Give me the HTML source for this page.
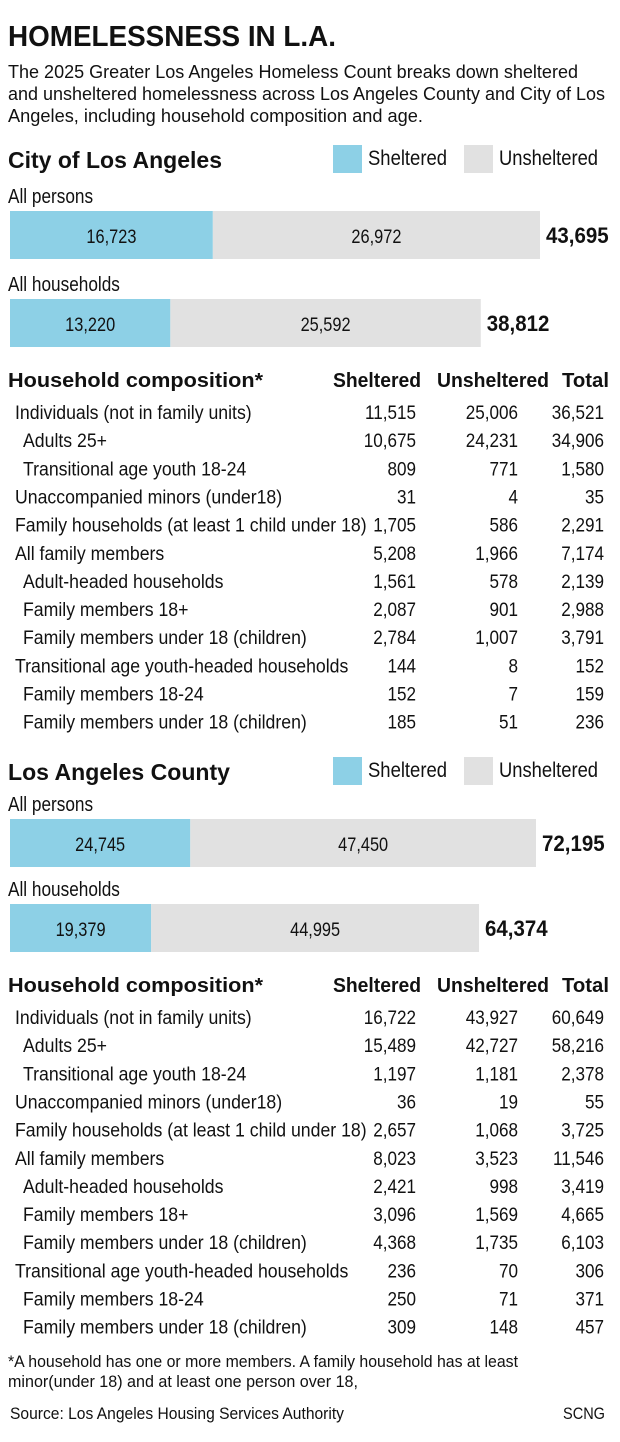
<!DOCTYPE html>
<html><head><meta charset="utf-8"><style>
body{margin:0;background:#fff;}
svg{display:block;font-family:"Liberation Sans",sans-serif;}
</style></head><body>
<svg id="s" width="620" height="1442" viewBox="0 0 620 1442">
<rect width="620" height="1442" fill="#fff"/>
</svg>
<script>
const cityBarLabels=["All persons","All households"];
const citySheltered=[16723,13220];
const cityUnsheltered=[26972,25592];
const countySheltered=[24745,19379];
const countyUnsheltered=[47450,44995];
const rowLabels=["Individuals (not in family units)","Adults 25+","Transitional age youth 18-24","Unaccompanied minors (under18)","Family households (at least 1 child under 18)","All family members","Adult-headed households","Family members 18+","Family members under 18 (children)","Transitional age youth-headed households","Family members 18-24","Family members under 18 (children)"];
const rowIndent=[1,2,2,1,1,1,2,2,2,1,2,2];
const cityRowSheltered=[11515,10675,809,31,1705,5208,1561,2087,2784,144,152,185];
const cityRowUnsheltered=[25006,24231,771,4,586,1966,578,901,1007,8,7,51];
const cityRowTotal=[36521,34906,1580,35,2291,7174,2139,2988,3791,152,159,236];
const countyRowSheltered=[16722,15489,1197,36,2657,8023,2421,3096,4368,236,250,309];
const countyRowUnsheltered=[43927,42727,1181,19,1068,3523,998,1569,1735,70,71,148];
const countyRowTotal=[60649,58216,2378,55,3725,11546,3419,4665,6103,306,371,457];

const S=document.getElementById('s');
const NS='http://www.w3.org/2000/svg';
const fmt=n=>n.toLocaleString('en-US');
function txt(x,y,str,size,opts){
  opts=opts||{};
  const t=document.createElementNS(NS,'text');
  t.setAttribute('x',x);t.setAttribute('y',y);
  t.setAttribute('font-size',size);
  t.setAttribute('fill',opts.fill||'#111');
  if(opts.bold)t.setAttribute('font-weight','bold');
  if(opts.anchor)t.setAttribute('text-anchor',opts.anchor);
  t.textContent=str;
  
  
  S.appendChild(t);
  if(opts.len){t.setAttribute('textLength',opts.len);t.setAttribute('lengthAdjust','spacingAndGlyphs');}
  else{const w=t.getComputedTextLength();t.setAttribute('textLength',w*(opts.sq||0.86));t.setAttribute('lengthAdjust','spacingAndGlyphs');}
  return t;
}
function rect(x,y,w,h,fill,name){
  const r=document.createElementNS(NS,'rect');
  r.setAttribute('x',x);r.setAttribute('y',y);r.setAttribute('width',w);r.setAttribute('height',h);r.setAttribute('fill',fill);
  
  
  S.appendChild(r);return r;
}
const BLUE='#8dd0e6',GREY='#e1e1e1';

txt(8,46,'HOMELESSNESS IN L.A.',29,{bold:true,len:328,name:'title'});
txt(8,78,'The 2025 Greater Los Angeles Homeless Count breaks down sheltered',18,{len:570,name:'subtitle-line'});
txt(8,100,'and unsheltered homelessness across Los Angeles County and City of Los',18,{len:597,name:'subtitle-line'});
txt(8,122,'Angeles, including household composition and age.',18,{len:415,name:'subtitle-line'});

function section(top,title,titleLen,sh,un,scaleW,rowsSh,rowsUn,rowsTot,barY){
  txt(8,top,title,23,{bold:true,len:titleLen,name:'section-title'});
  rect(333,top-23,29,28,BLUE,'legend-swatch-sheltered');
  txt(368,top-3,'Sheltered',21,{len:79,name:'legend-sheltered'});
  rect(464,top-23,29,28,GREY,'legend-swatch-unsheltered');
  txt(499,top-3,'Unsheltered',21,{len:99,name:'legend-unsheltered'});
  const maxTot=sh[0]+un[0];
  const k=scaleW/maxTot;
  for(let i=0;i<2;i++){
    const y=barY[i];
    txt(8,y-8,cityBarLabels[i],20,{name:'bar-label'});
    const ws=sh[i]*k,wu=un[i]*k;
    rect(10,y,ws,48,BLUE,'bar-sheltered');
    rect(10+ws,y,wu,48,GREY,'bar-unsheltered');
    txt(10+ws/2,y+32,fmt(sh[i]),19,{anchor:'middle',name:'bar-value-sheltered'});
    txt(10+ws+wu/2,y+32,fmt(un[i]),19,{anchor:'middle',name:'bar-value-unsheltered'});
    txt(10+ws+wu+6,y+32,fmt(sh[i]+un[i]),22,{bold:true,sq:0.93,name:'bar-total'});
  }
  const hy=barY[1]+88;
  txt(8,hy,'Household composition*',20,{bold:true,len:255,name:'table-header'});
  txt(421,hy,'Sheltered',20,{bold:true,anchor:'end',len:88,name:'table-header'});
  txt(549,hy,'Unsheltered',20,{bold:true,anchor:'end',len:112,name:'table-header'});
  txt(609,hy,'Total',20,{bold:true,anchor:'end',len:47,name:'table-header'});
  for(let i=0;i<rowLabels.length;i++){
    const y=hy+32+i*28.15;
    txt(rowIndent[i]==1?15:23,y,rowLabels[i],19,{sq:0.93,name:'row-label'});
    txt(416,y,fmt(rowsSh[i]),19,{anchor:'end',sq:0.9,name:'row-sheltered'});
    txt(518,y,fmt(rowsUn[i]),19,{anchor:'end',sq:0.9,name:'row-unsheltered'});
    txt(604,y,fmt(rowsTot[i]),19,{anchor:'end',sq:0.9,name:'row-total'});
  }
}
section(168,'City of Los Angeles',214,citySheltered,cityUnsheltered,530,cityRowSheltered,cityRowUnsheltered,cityRowTotal,[211,299]);
section(780,'Los Angeles County',222,countySheltered,countyUnsheltered,526,countyRowSheltered,countyRowUnsheltered,countyRowTotal,[819,904]);

txt(8,1367,'*A household has one or more members. A family household has at least',17,{len:510,name:'footnote'});
txt(8,1387,'minor(under 18) and at least one person over 18,',17,{len:350,name:'footnote'});
txt(10,1419,'Source: Los Angeles Housing Services Authority',17,{len:334,name:'source'});
txt(605,1419,'SCNG',17,{anchor:'end',len:42,name:'credit'});
</script>
</body></html>
